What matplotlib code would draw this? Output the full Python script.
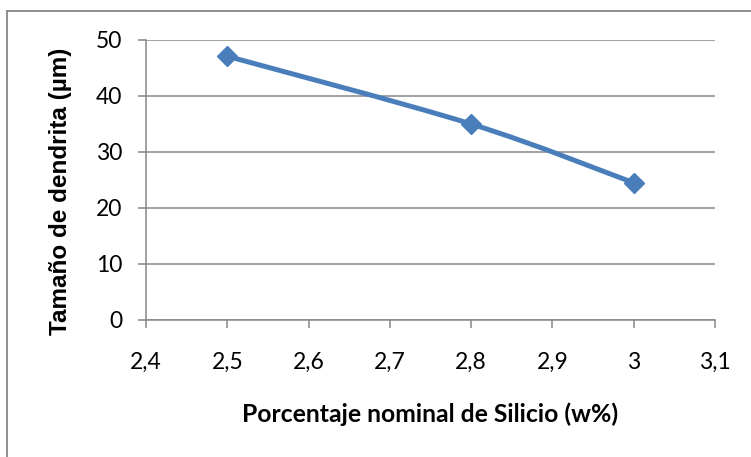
import matplotlib.pyplot as plt
import numpy as np
from matplotlib.path import Path
from matplotlib.patches import PathPatch
from matplotlib.lines import Line2D
from matplotlib.ticker import FuncFormatter

# data
silicio = [2.5, 2.8, 3.0]
dendrita = [47.1, 35.0, 24.5]
x_ticks = [2.4, 2.5, 2.6, 2.7, 2.8, 2.9, 3.0, 3.1]
y_ticks = [0, 10, 20, 30, 40, 50]

BLUE = "#4A7EBB"
GREY = "#878787"


def smooth_path(x, y, tension=1.0 / 6):
    # Excel-like smoothed line: cubic bezier segments through the points
    x = np.asarray(x, float)
    y = np.asarray(y, float)
    n = len(x)
    verts = [(x[0], y[0])]
    codes = [Path.MOVETO]
    for i in range(n - 1):
        p0 = np.array([x[max(i - 1, 0)], y[max(i - 1, 0)]])
        p1 = np.array([x[i], y[i]])
        p2 = np.array([x[i + 1], y[i + 1]])
        p3 = np.array([x[min(i + 2, n - 1)], y[min(i + 2, n - 1)]])
        c1 = p1 + (p2 - p0) * tension
        c2 = p2 - (p3 - p1) * tension
        verts += [tuple(c1), tuple(c2), tuple(p2)]
        codes += [Path.CURVE4] * 3
    return Path(verts, codes)


fig = plt.figure(figsize=(7.51, 4.57), dpi=100)
ax = fig.add_axes([146 / 751, 1 - 320 / 457, (715 - 146) / 751, (320 - 40) / 457])

ax.add_patch(PathPatch(smooth_path(silicio, dendrita), facecolor="none",
                       edgecolor=BLUE, lw=3.6, capstyle="round", zorder=3))
ax.plot(silicio, dendrita, linestyle="none", marker="D", markersize=10.5,
        color=BLUE, zorder=4)

ax.set_xlim(2.4, 3.1)
ax.set_ylim(0, 50)
ax.set_xticks(x_ticks)
ax.set_yticks(y_ticks)
ax.xaxis.set_major_formatter(FuncFormatter(lambda v, p: ("%g" % round(v, 1)).replace(".", ",")))

ax.grid(axis="y", color=GREY, lw=1.1)
ax.set_axisbelow(True)
for s in ["top", "right"]:
    ax.spines[s].set_visible(False)
for s in ["bottom", "left"]:
    ax.spines[s].set_color(GREY)
    ax.spines[s].set_linewidth(1.1)

ax.tick_params(axis="x", length=6, width=1.1, color=GREY, pad=17,
               labelsize=16.5, labelfontfamily="Lato")
ax.tick_params(axis="y", length=6, width=1.1, color=GREY, pad=11,
               labelsize=16.5, labelfontfamily="Lato")

ax.set_xlabel("Porcentaje nominal de Silicio (w%)", fontsize=17.8,
              fontweight="bold", family="Lato", va="center")
ax.xaxis.set_label_coords(0.5, -0.335)
ax.set_ylabel("Tamaño de dendrita (µm)", fontsize=17.5, fontweight="bold",
              family="Liberation Sans", va="center")
ax.yaxis.set_label_coords(-0.151, 0.46)

# outer chart border (only top and left edges are visible)
fig.add_artist(Line2D([7 / 751, 1.0], [1 - 11 / 457, 1 - 11 / 457],
                      transform=fig.transFigure, color=GREY, lw=1.3))
fig.add_artist(Line2D([7 / 751, 7 / 751], [0.0, 1 - 11 / 457],
                      transform=fig.transFigure, color=GREY, lw=1.3))

fig.savefig("out.png", dpi=100)
